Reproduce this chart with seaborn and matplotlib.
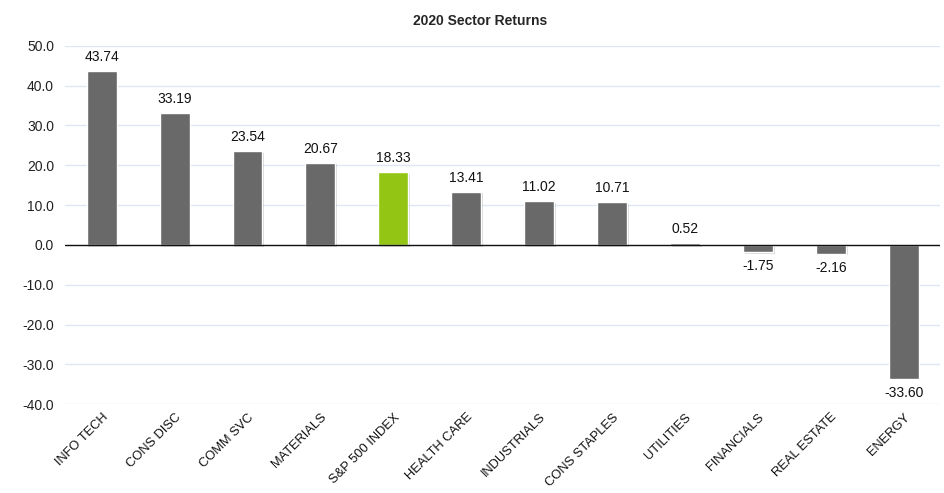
import matplotlib
matplotlib.use("Agg")
import matplotlib.pyplot as plt
import matplotlib.patheffects as pe
import seaborn as sns
import pandas as pd

sectors = ["INFO TECH", "CONS DISC", "COMM SVC", "MATERIALS", "S&P 500 INDEX",
           "HEALTH CARE", "INDUSTRIALS", "CONS STAPLES", "UTILITIES",
           "FINANCIALS", "REAL ESTATE", "ENERGY"]
returns = [43.74, 33.19, 23.54, 20.67, 18.33, 13.41, 11.02, 10.71, 0.52,
           -1.75, -2.16, -33.60]
y_ticks = [-40, -30, -20, -10, 0, 10, 20, 30, 40, 50]

df = pd.DataFrame({"sector": sectors, "ret": returns})
palette = {s: ("#92c514" if s == "S&P 500 INDEX" else "#696969") for s in sectors}

sns.set_style("white")
plt.rcParams["font.family"] = ["Liberation Sans", "DejaVu Sans"]

fig = plt.figure(figsize=(9.45, 4.93), dpi=100)
ax = fig.add_axes([0.069, 0.18, 0.926, 0.727])

sns.barplot(data=df, x="sector", y="ret", hue="sector", palette=palette,
            legend=False, width=0.41, saturation=1, ax=ax, zorder=3)
for bar in ax.patches:
    bar.set_path_effects([pe.SimplePatchShadow(offset=(1.2, -1.2), alpha=0.18),
                          pe.Normal()])

ax.set_ylim(-40, 50)
ax.set_xlim(-0.5, len(sectors) - 0.5)
ax.set_yticks(y_ticks)
ax.set_yticklabels([f"{v:.1f}" for v in y_ticks], fontsize=10, color="#222222")
ax.grid(axis="y", color="#dde8f4", linewidth=1, zorder=0)
ax.axhline(0, color="#111111", linewidth=1, zorder=4)
for s in ax.spines.values():
    s.set_visible(False)
ax.tick_params(axis="both", length=0)
ax.tick_params(axis="y", pad=8)
ax.tick_params(axis="x", pad=5)
ax.set_xlabel("")
ax.set_ylabel("")
ax.set_xticks(range(len(sectors)))
ax.set_xticklabels(sectors, rotation=45, ha="right", rotation_mode="anchor",
                   fontsize=9.3, color="#111111")

for i, v in enumerate(returns):
    if v >= 0:
        ax.annotate(f"{v:.2f}", (i, v), xytext=(0, 5), textcoords="offset points",
                    ha="center", va="bottom", fontsize=10, color="#111111")
    else:
        ax.annotate(f"{v:.2f}", (i, v), xytext=(0, -5), textcoords="offset points",
                    ha="center", va="top", fontsize=10, color="#111111")

fig.text(0.508, 0.958, "2020 Sector Returns", ha="center", va="center",
         fontsize=10, fontweight="bold")

fig.savefig("out.png", dpi=100)
